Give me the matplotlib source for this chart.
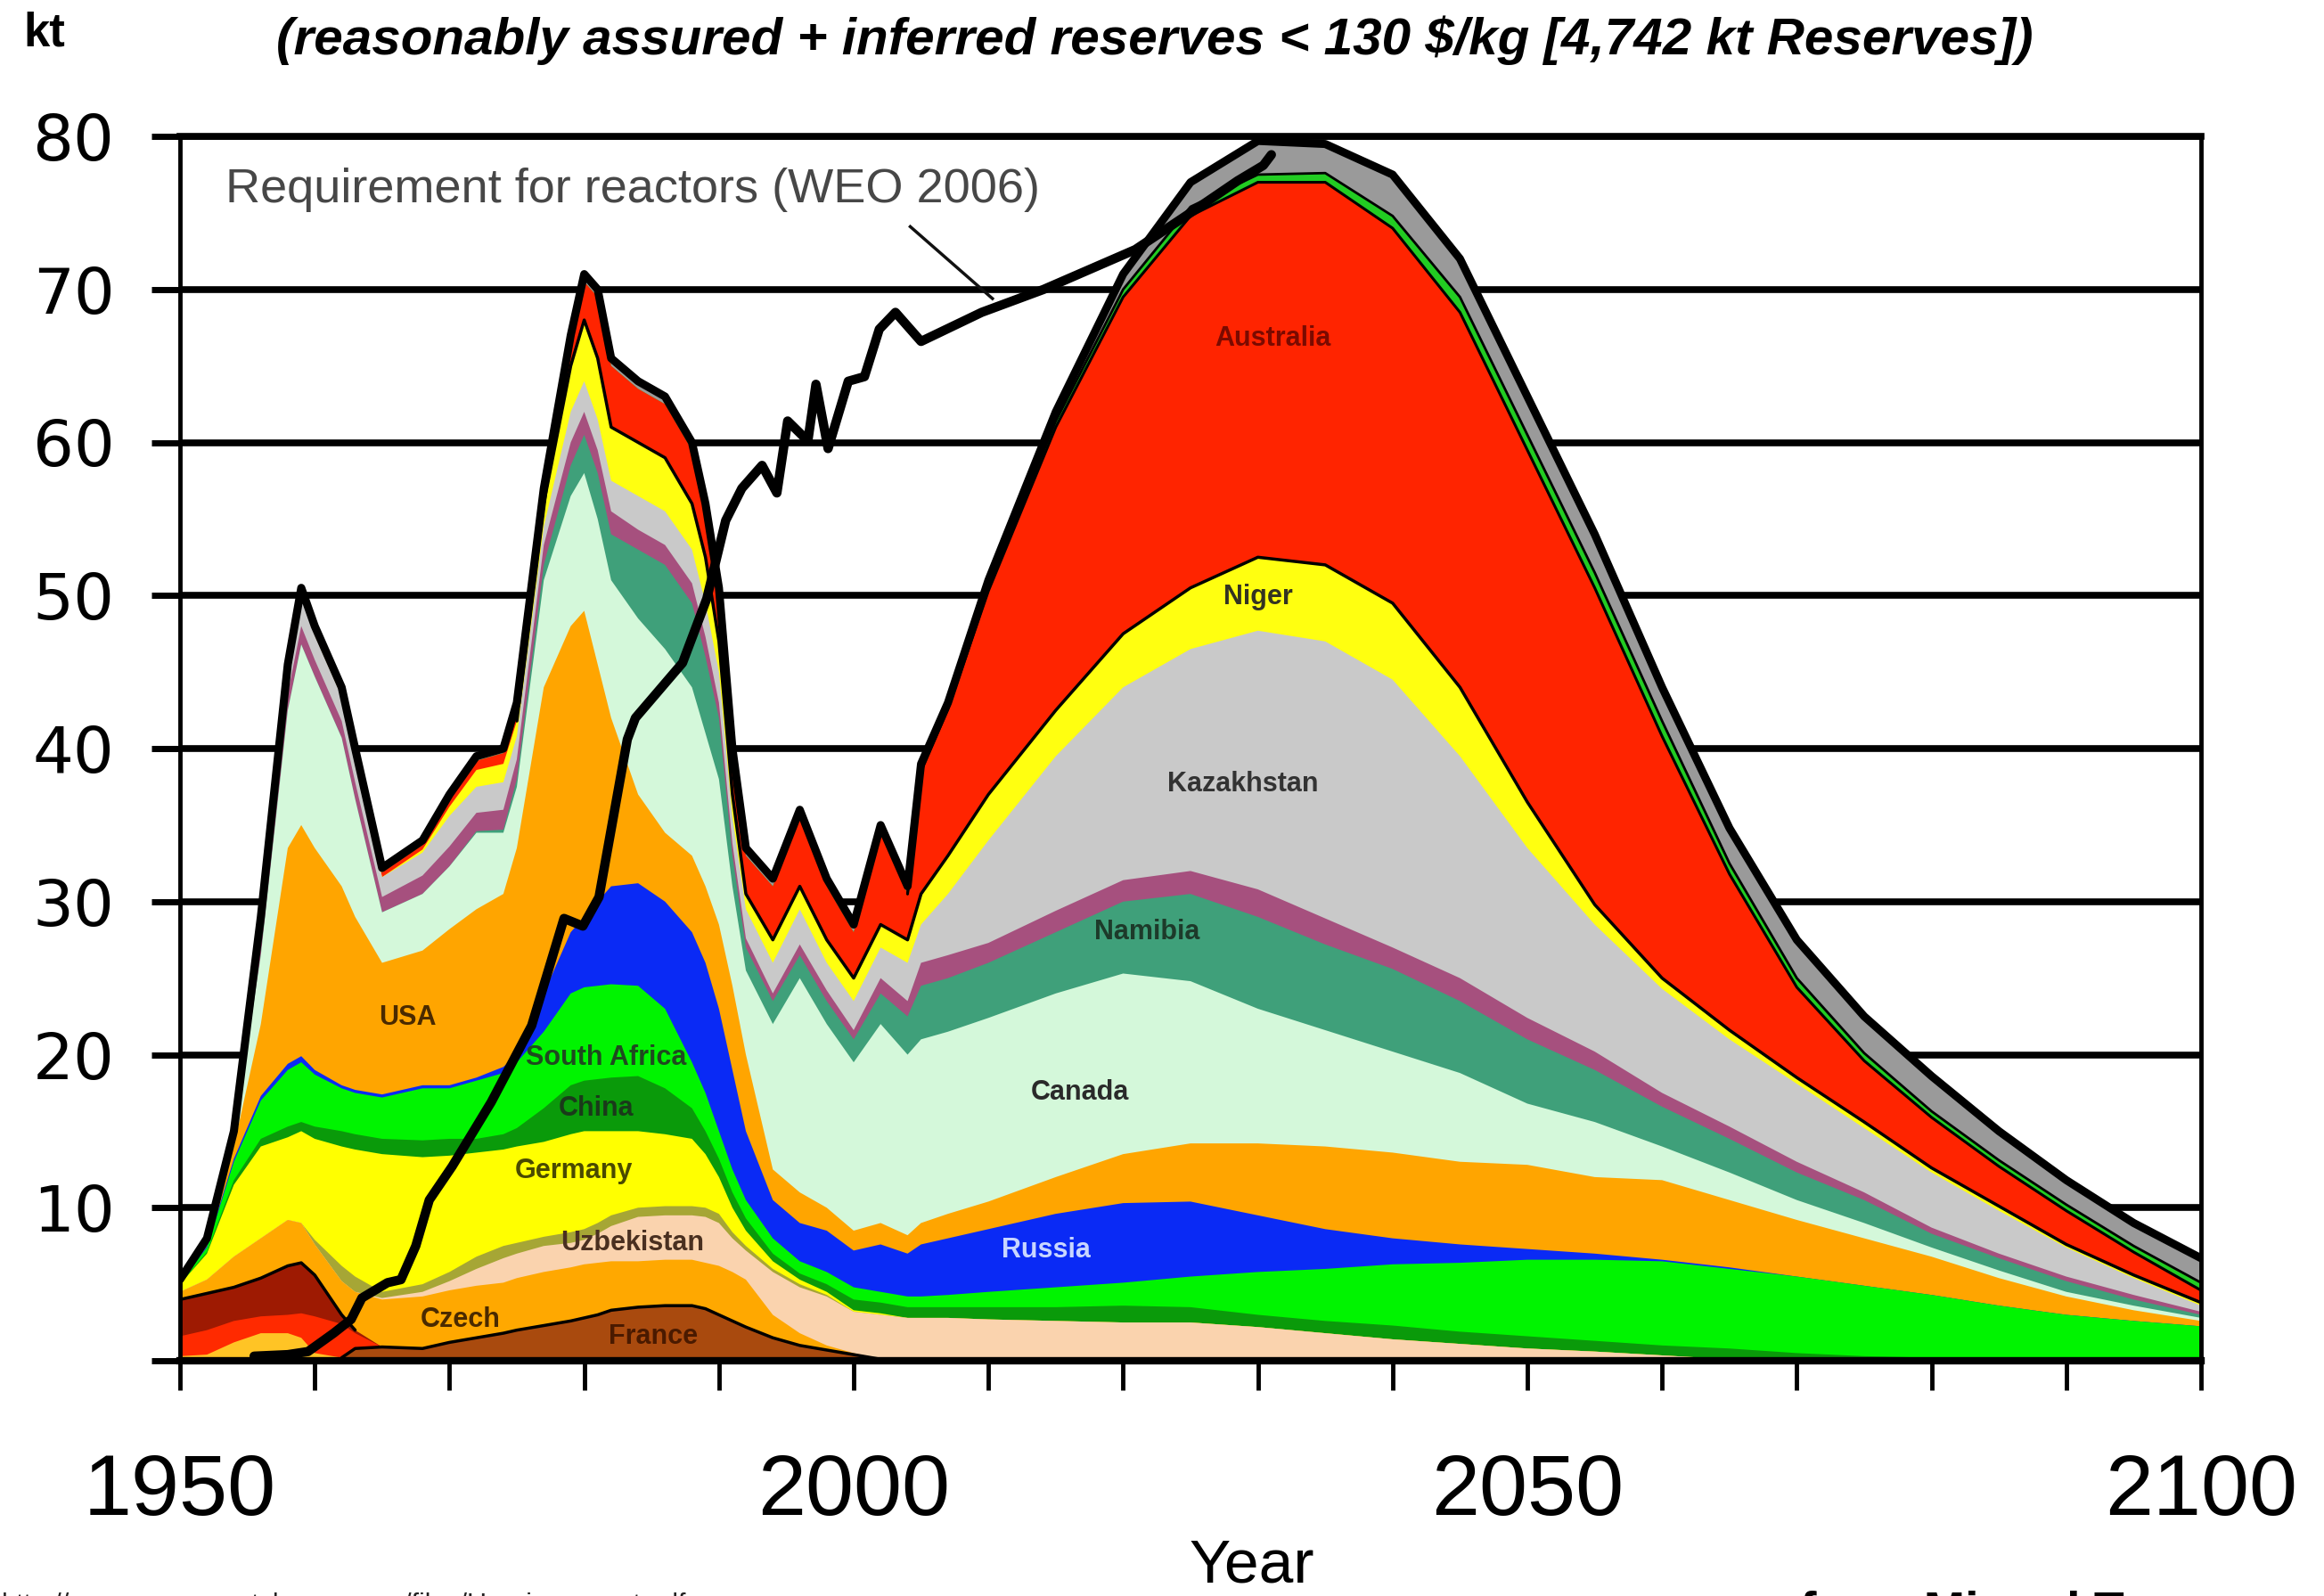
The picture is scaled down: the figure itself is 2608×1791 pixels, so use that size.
import numpy as np
import matplotlib
matplotlib.use("Agg")
import matplotlib.pyplot as plt
from matplotlib import font_manager

# ---------------- data (kt, upper edge of each stacked band) ----------------
years = [1950, 1952, 1954, 1956, 1958, 1959, 1960, 1962, 1963, 1965,
         1968, 1970, 1972, 1974, 1975, 1977, 1979, 1980, 1981, 1982,
         1984, 1986, 1988, 1989, 1990, 1991, 1992, 1994, 1996, 1998,
         2000, 2002, 2004, 2005, 2007, 2010, 2015, 2020, 2025, 2030,
         2035, 2040, 2045, 2050, 2055, 2060, 2065, 2070, 2075, 2080,
         2085, 2090, 2095, 2100]

top_france = [0, 0, 0, 0, 0, 0, 0, 0.2, 0.8, 0.9,
              0.8, 1.2, 1.5, 1.8, 2.0, 2.3, 2.6, 2.8, 3.0, 3.3,
              3.5, 3.6, 3.6, 3.4, 3.0, 2.6, 2.2, 1.5, 1.0, 0.7,
              0.4, 0.1, 0, 0, 0, 0, 0, 0, 0, 0,
              0, 0, 0, 0, 0, 0, 0, 0, 0, 0,
              0, 0, 0, 0]
top_gold = [0.3, 0.4, 1.2, 1.8, 1.8, 1.5, 0.5, 0.2, 0.8, 0.9] + top_france[10:]
top_red2 = [1.6, 2.0, 2.6, 2.9, 3.0, 3.1, 2.9, 2.4, 1.8, 0.9] + top_france[10:]
top_maroon = [4.0, 4.4, 4.8, 5.4, 6.2, 6.4, 5.6, 3.0, 2.0, 0.9] + top_france[10:]
top_czech = [4.5, 5.3, 6.8, 8.0, 9.2, 9.0, 7.6, 5.2, 4.5, 4.0,
             4.2, 4.6, 4.9, 5.1, 5.4, 5.8, 6.1, 6.3, 6.4, 6.5,
             6.5, 6.6, 6.6, 6.4, 6.2, 5.8, 5.3, 3.0, 1.8, 1.0,
             0.5, 0.1, 0, 0, 0, 0, 0, 0, 0, 0,
             0, 0, 0, 0, 0, 0, 0, 0, 0, 0,
             0, 0, 0, 0]
top_uzbek = [4.5, 5.3, 6.8, 8.0, 9.2, 9.0, 7.6, 5.2, 4.5, 4.1,
             4.5, 5.2, 6.0, 6.7, 7.0, 7.5, 7.7, 7.9, 8.3, 8.8,
             9.4, 9.5, 9.5, 9.4, 9.0, 8.0, 7.2, 5.8, 4.8, 4.2,
             3.2, 3.0, 2.8, 2.8, 2.8, 2.7, 2.6, 2.5, 2.5, 2.2,
             1.8, 1.4, 1.1, 0.8, 0.6, 0.35, 0.1, 0, 0, 0,
             0, 0, 0, 0]
top_olive = [4.5, 5.3, 6.8, 8.0, 9.2, 9.0, 7.9, 6.2, 5.5, 4.5,
             5.0, 5.8, 6.8, 7.5, 7.7, 8.1, 8.4, 8.6, 9.0, 9.5,
             10.0, 10.1, 10.1, 10.0, 9.6, 8.4, 7.5, 6.0, 5.0, 4.3,
             3.2, 3.0, 2.8, 2.8, 2.8, 2.7, 2.6, 2.5, 2.5, 2.2,
             1.8, 1.4, 1.1, 0.8, 0.6, 0.35, 0.1, 0, 0, 0,
             0, 0, 0, 0]
top_germany = [5.0, 7.0, 11.5, 14.0, 14.6, 15.0, 14.5, 14.0, 13.8, 13.5,
               13.3, 13.4, 13.6, 13.8, 14.0, 14.3, 14.8, 15.0, 15.0, 15.0,
               15.0, 14.8, 14.5, 13.5, 12.0, 10.0, 8.5, 6.5, 5.3, 4.5,
               3.3, 3.1, 2.8, 2.8, 2.8, 2.7, 2.6, 2.5, 2.5, 2.2,
               1.8, 1.4, 1.1, 0.8, 0.6, 0.35, 0.1, 0, 0, 0,
               0, 0, 0, 0]
top_china = [5.0, 7.1, 11.8, 14.5, 15.3, 15.6, 15.3, 15.0, 14.8, 14.5,
             14.4, 14.5, 14.5, 14.8, 15.2, 16.5, 18.0, 18.3, 18.4, 18.5,
             18.6, 17.8, 16.5, 15.0, 13.2, 11.0, 9.3, 7.0, 5.7, 5.0,
             4.0, 3.8, 3.5, 3.5, 3.5, 3.5, 3.5, 3.6, 3.5, 3.0,
             2.6, 2.3, 1.9, 1.6, 1.3, 1.0, 0.8, 0.5, 0.3, 0.2,
             0.1, 0, 0, 0]
top_safrica = [5.1, 7.4, 13.0, 17.0, 19.0, 19.5, 18.7, 17.8, 17.5, 17.2,
               17.8, 17.8, 18.3, 18.8, 19.5, 21.5, 24.0, 24.4, 24.5, 24.6,
               24.5, 23.0, 19.5, 17.5, 15.0, 12.5, 10.5, 8.0, 6.5, 5.8,
               4.8, 4.5, 4.2, 4.2, 4.3, 4.5, 4.8, 5.1, 5.5, 5.8,
               6.0, 6.3, 6.4, 6.6, 6.6, 6.5, 6.0, 5.5, 4.9, 4.3,
               3.6, 3.0, 2.6, 2.25]
top_russia = [5.1, 7.5, 13.2, 17.3, 19.4, 19.9, 19.0, 18.0, 17.7, 17.4,
              18.0, 18.0, 18.5, 19.2, 20.0, 24.0, 28.0, 29.0, 30.0, 31.0,
              31.2, 30.0, 28.0, 26.0, 23.0, 19.0, 15.0, 10.5, 9.0, 8.5,
              7.2, 7.6, 7.0, 7.6, 8.0, 8.6, 9.6, 10.3, 10.4, 9.5,
              8.6, 8.0, 7.6, 7.3, 7.0, 6.6, 6.1, 5.5, 4.9, 4.3,
              3.6, 3.0, 2.6, 2.25]
top_usa = [5.2, 7.8, 14.0, 22.0, 33.5, 35.0, 33.5, 31.0, 29.0, 26.0,
           26.8, 28.2, 29.5, 30.5, 33.5, 44.0, 48.0, 49.0, 45.5, 42.0,
           37.0, 34.5, 33.0, 31.0, 28.5, 24.5, 20.0, 12.5, 11.0, 10.0,
           8.5, 9.0, 8.2, 9.0, 9.6, 10.4, 12.0, 13.5, 14.2, 14.2,
           14.0, 13.6, 13.0, 12.8, 12.0, 11.8, 10.5, 9.2, 8.0, 6.8,
           5.4, 4.2, 3.3, 2.6]
top_canada = [5.3, 8.0, 14.6, 26.5, 42.5, 46.8, 44.7, 40.7, 36.7, 29.3,
              30.5, 32.3, 34.5, 34.5, 37.5, 51.0, 56.5, 58.0, 55.0, 51.0,
              48.5, 46.5, 44.0, 41.0, 38.0, 31.0, 25.5, 22.0, 25.0, 22.0,
              19.5, 22.0, 20.0, 21.0, 21.5, 22.4, 24.0, 25.3, 24.8, 23.0,
              21.6, 20.2, 18.8, 16.8, 15.6, 14.0, 12.3, 10.5, 9.0, 7.4,
              5.9, 4.5, 3.6, 2.8]
top_namibia = [5.3, 8.0, 14.6, 26.5, 42.5, 46.8, 44.7, 40.7, 36.7, 29.3,
               30.5, 32.3, 34.6, 34.7, 38.0, 52.0, 58.5, 60.5, 58.0, 54.0,
               53.0, 52.0, 49.5, 46.0, 42.0, 33.0, 27.0, 23.5, 26.5, 23.5,
               21.0, 24.0, 22.5, 24.5, 25.0, 26.0, 28.0, 30.0, 30.5, 29.0,
               27.2, 25.6, 23.5, 21.0, 19.0, 16.6, 14.5, 12.3, 10.5, 8.3,
               6.7, 5.2, 4.0, 3.0]
top_mauve = [5.3, 8.0, 14.8, 27.3, 43.6, 48.0, 45.8, 41.8, 37.8, 30.3,
             31.7, 33.6, 35.8, 36.0, 39.3, 53.3, 60.0, 62.0, 59.5, 55.5,
             54.3, 53.3, 50.8, 47.3, 43.0, 33.8, 27.6, 24.0, 27.2, 24.2,
             21.6, 25.0, 23.5, 26.0, 26.5, 27.3, 29.4, 31.4, 32.0, 30.8,
             28.9, 27.0, 25.0, 22.4, 20.2, 17.5, 15.3, 13.0, 11.0, 8.7,
             7.0, 5.5, 4.3, 3.2]
top_kazakh = [5.3, 8.0, 14.9, 28.3, 44.9, 49.9, 47.4, 43.4, 39.4, 31.6,
              33.2, 35.6, 37.5, 37.8, 40.8, 54.5, 62.0, 64.0, 61.5, 57.5,
              56.5, 55.5, 53.0, 49.5, 45.0, 35.5, 29.5, 26.0, 29.5, 26.0,
              23.5, 27.0, 26.0, 28.5, 30.5, 34.0, 39.5, 44.0, 46.5, 47.7,
              47.0, 44.5, 39.5, 33.5, 28.5, 24.3, 21.0, 18.1, 15.2, 12.3,
              9.8, 7.4, 5.4, 3.6]
top_niger = [5.3, 8.0, 14.9, 28.3, 44.9, 49.9, 47.4, 43.4, 39.4, 31.6,
             33.4, 36.2, 38.6, 39.0, 41.8, 56.0, 65.0, 68.0, 65.5, 61.0,
             60.0, 59.0, 56.0, 52.5, 47.0, 37.0, 30.5, 27.5, 31.0, 27.5,
             25.0, 28.5, 27.5, 30.5, 33.0, 37.0, 42.5, 47.5, 50.5, 52.5,
             52.0, 49.5, 44.0, 36.5, 29.8, 25.0, 21.6, 18.5, 15.6, 12.6,
             10.1, 7.6, 5.6, 3.8]
top_australia = [5.3, 8.0, 14.95, 28.7, 45.2, 50.2, 47.7, 43.7, 39.7, 31.9,
                 33.7, 36.7, 39.2, 39.7, 42.5, 56.6, 66.5, 70.5, 69.5, 65.0,
                 63.5, 62.5, 59.5, 55.5, 50.0, 39.5, 33.0, 31.0, 35.5, 31.0,
                 28.0, 34.5, 30.5, 38.5, 42.6, 50.3, 61.0, 69.5, 74.8, 77.0,
                 77.0, 74.0, 68.5, 59.5, 50.5, 40.8, 31.8, 24.4, 19.6, 15.9,
                 12.7, 9.8, 7.1, 4.6]
top_minor = top_australia[:33] + [38.6, 42.8, 50.6, 61.4, 70.0, 75.4, 77.5,
                                  77.6, 74.8, 69.5, 60.5, 51.5, 41.8, 32.5, 25.0, 20.1, 16.3,
                                  13.1, 10.2, 7.5, 5.1]
top_total = [5.3, 8.0, 15.0, 29.0, 45.5, 50.5, 48.0, 44.0, 40.0, 32.2,
             34.0, 37.0, 39.5, 40.0, 43.0, 57.0, 67.0, 71.0, 70.0, 65.5,
             64.0, 63.0, 60.0, 56.0, 50.5, 40.0, 33.5, 31.5, 36.0, 31.5,
             28.5, 35.0, 31.0, 39.0, 43.0, 51.0, 62.0, 71.0, 77.0, 79.7,
             79.5, 77.5, 72.0, 63.0, 54.0, 44.0, 34.8, 27.5, 22.5, 18.6,
             15.0, 11.8, 9.0, 6.7]

# Requirement for reactors (WEO 2006)
req_years = [1955.5, 1958.0, 1959.5, 1961.4, 1962.7, 1963.5, 1965.4, 1966.4, 1967.5, 1968.5,
             1970.2, 1973.1, 1976.1, 1978.5, 1979.9, 1981.1, 1983.2, 1983.8, 1987.3, 1989.1,
             1990.5, 1991.7, 1993.2, 1994.3, 1995.1, 1996.6, 1997.2, 1998.1, 1999.6, 2000.8,
             2001.9, 2003.1, 2005.0, 2009.5, 2014.1, 2020.9, 2025.5, 2028.5, 2030.4, 2031.0]
req_values = [0.3, 0.4, 0.6, 1.8, 2.7, 4.1, 5.1, 5.3, 7.5, 10.5,
              12.7, 16.9, 21.9, 28.9, 28.4, 30.3, 40.6, 42.0, 45.6, 49.8,
              54.9, 57.0, 58.5, 56.7, 61.4, 60.1, 63.8, 59.6, 64.0, 64.3,
              67.4, 68.5, 66.6, 68.5, 70.0, 72.6, 75.3, 77.1, 78.1, 78.8]

title = "(reasonably assured + inferred reserves < 130 \\$/kg [4,742 kt Reserves])"
x_tick_years = list(range(1950, 2101, 10))
x_labelled = [1950, 2000, 2050, 2100]
y_ticks = list(range(0, 81, 10))

# ---------------- styling ----------------
avail = {f.name for f in font_manager.fontManager.ttflist}
NARROW = 'Liberation Sans Narrow' if 'Liberation Sans Narrow' in avail else 'Liberation Sans'
XSIZE = 78 if NARROW == 'Liberation Sans Narrow' else 70
plt.rcParams['font.family'] = ['Liberation Sans', 'DejaVu Sans']

layers = [
    (top_france, '#A94A0E'), (top_gold, '#FFC425'), (top_red2, '#FF2A00'),
    (top_maroon, '#9E1A02'), (top_czech, '#FFA800'), (top_uzbek, '#FAD3AE'),
    (top_olive, '#A6A635'), (top_germany, '#FFFF00'), (top_china, '#0A9A0A'),
    (top_safrica, '#00F400'), (top_russia, '#0A2AF5'), (top_usa, '#FFA500'),
    (top_canada, '#D4F8DA'), (top_namibia, '#3FA07A'), (top_mauve, '#A6507E'),
    (top_kazakh, '#C9C9C9'), (top_niger, '#FFFF10'), (top_australia, '#FF2400'),
    (top_minor, '#22CC22'), (top_total, '#9A9A9A'),
]
for arr, _ in layers:
    assert len(arr) == len(years), len(arr)

W, H = 2608, 1791
fig = plt.figure(figsize=(W / 100, H / 100), dpi=100)
ax = fig.add_axes([202 / W, 1 - 1527 / H, (2470 - 202) / W, (1527 - 153) / H])

yrs = np.array(years, float)
# paint from the top band downwards so adjacent bands share no seams
for arr, color in reversed(layers):
    ax.fill_between(yrs, 0, np.array(arr, float), facecolor=color,
                    edgecolor='none', linewidth=0, zorder=1)

# black outlines
def outline(arr, lo, hi, lw):
    a = np.array(arr, float)
    m = (yrs >= lo) & (yrs <= hi)
    ax.plot(yrs[m], a[m], color='black', lw=lw, solid_joinstyle='round',
            solid_capstyle='round', zorder=3)

outline(top_maroon, 1950, 1963, 2.5)
outline(top_france, 1962, 2004, 2.5)
outline(top_niger, 1975, 2100, 2.5)
outline(top_australia, 2004, 2100, 2.2)
outline(top_minor, 2004, 2100, 2.0)
outline(top_total, 1950, 2100, 6.5)

# reactor requirement line
ax.plot(req_years, req_values, color='black', lw=7.5, solid_joinstyle='round',
        solid_capstyle='round', zorder=5)
ax.text(1953.4, 76.5, 'Requirement for reactors (WEO 2006)', color='#474747',
        fontsize=39, ha='left', va='center', zorder=6)
ax.plot([2004.2, 2010.3], [74.1, 69.4], color='#111111', lw=2.5, zorder=6)

# country labels
lab_kw = dict(fontsize=22, fontweight='bold', ha='center', va='center', zorder=2.5)
labels = [
    ('Australia', 2031.1, 66.8, '#7a0a00'), ('Niger', 2030.0, 49.9, '#333322'),
    ('Kazakhstan', 2028.9, 37.7, '#333333'), ('Namibia', 2021.8, 28.0, '#1d3a2a'),
    ('Canada', 2016.8, 17.5, '#2a2a2a'), ('Russia', 2014.3, 7.2, '#c8d6ff'),
    ('USA', 1966.9, 22.4, '#4a2a00'), ('South Africa', 1981.6, 19.8, '#1f4a1f'),
    ('China', 1980.9, 16.5, '#1a3a1a'), ('Germany', 1979.2, 12.4, '#4a4a00'),
    ('Uzbekistan', 1983.6, 7.7, '#4a3020'), ('Czech', 1970.8, 2.7, '#4a2a00'),
    ('France', 1985.1, 1.55, '#4a1a00'),
]
for txt, x, y, c in labels:
    ax.text(x, y, txt, color=c, **lab_kw)

# axes
ax.set_xlim(1950, 2100)
ax.set_ylim(0, 80)
ax.set_xticks(x_tick_years)
ax.set_xticklabels([str(y) if y in x_labelled else '' for y in x_tick_years])
ax.set_yticks(y_ticks)
ax.set_yticklabels(['' if v == 0 else str(v) for v in y_ticks])
ax.set_axisbelow(True)
ax.yaxis.grid(True, color='black', lw=5.5)
ax.xaxis.grid(False)
ax.tick_params(axis='y', length=23, width=5.0, pad=30, labelsize=52, colors='black')
ax.tick_params(axis='x', length=24, width=3.5, pad=50, labelsize=XSIZE, colors='black')
for lbl in ax.get_xticklabels():
    lbl.set_fontfamily(NARROW)
for lbl in ax.get_yticklabels():
    lbl.set_fontfamily('DejaVu Sans')
for side, lw in (('left', 3.5), ('right', 3.5), ('bottom', 6.0), ('top', 5.5)):
    ax.spines[side].set_linewidth(lw)
    ax.spines[side].set_color('black')

# figure texts
fig.text(1296 / W, 1 - 45 / H, title, ha='center', va='center', fontsize=42,
         fontweight='bold', fontstyle='italic')
fig.text(50 / W, 1 - 37 / H, 'kt', ha='center', va='center', fontsize=38, fontweight='bold')
fig.text(1405 / W, 1 - 1758 / H, 'Year', ha='center', va='center', fontsize=50,
         family=NARROW)
fig.text(2020 / W, 1 - 1785 / H, 'from Miguel Torres', ha='left', va='top',
         fontsize=40, fontweight='bold')
fig.text(2 / W, 1 - 1787 / H, 'http://www.energywatchgroup.org/files/Uraniumreport.pdf',
         ha='left', va='top', fontsize=22, color='#222222')

fig.savefig('out.png', dpi=100)
